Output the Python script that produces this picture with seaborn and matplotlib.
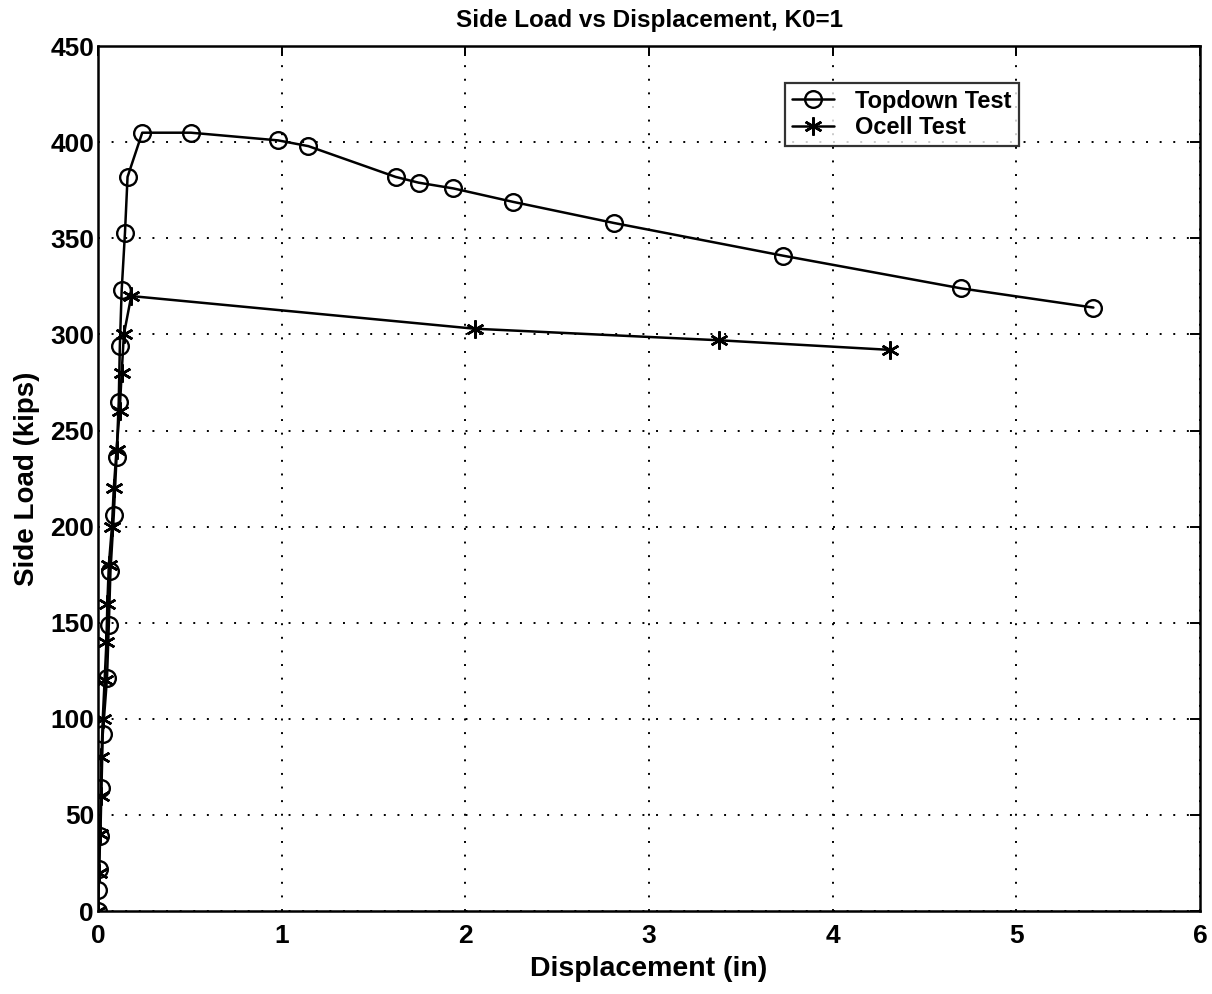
import matplotlib
matplotlib.use("Agg")
import matplotlib.pyplot as plt
import seaborn as sns
import pandas as pd

# Topdown load test: displacement (in) and side load (kips)
topdown_disp = [0.0, 0.0, 0.004, 0.012, 0.018, 0.025, 0.048, 0.058, 0.067, 0.085,
                0.100, 0.112, 0.118, 0.128, 0.146, 0.160, 0.240, 0.505, 0.98, 1.145,
                1.62, 1.745, 1.935, 2.26, 2.81, 3.73, 4.70, 5.42]
topdown_load = [0, 11, 22, 39, 64, 92, 121, 149, 177, 206,
                236, 265, 294, 323, 353, 382, 405, 405, 401, 398,
                382, 379, 376, 369, 358, 341, 324, 314]

# Osterberg cell test
ocell_disp = [0.0, 0.005, 0.010, 0.015, 0.018, 0.025, 0.035, 0.045, 0.050, 0.058,
              0.075, 0.085, 0.100, 0.117, 0.128, 0.140, 0.180, 2.05, 3.38, 4.31]
ocell_load = [0, 20, 40, 60, 80, 100, 120, 140, 160, 180,
              200, 220, 240, 260, 280, 300, 320, 303, 297, 292]

x_ticks = [0, 1, 2, 3, 4, 5, 6]
y_ticks = [0, 50, 100, 150, 200, 250, 300, 350, 400, 450]

sns.set_theme(style="white")
plt.rcParams["font.family"] = ["Liberation Sans", "DejaVu Sans"]
plt.rcParams["font.weight"] = "bold"
plt.rcParams["text.color"] = "black"
plt.rcParams["axes.labelcolor"] = "black"
plt.rcParams["xtick.color"] = "black"
plt.rcParams["ytick.color"] = "black"

fig = plt.figure(figsize=(12.12, 9.94), dpi=100)
ax = fig.add_axes([0.081, 0.0835, 0.909, 0.870])

topdown = pd.DataFrame({"disp": topdown_disp, "load": topdown_load})
ocell = pd.DataFrame({"disp": ocell_disp, "load": ocell_load})

sns.lineplot(data=topdown, x="disp", y="load", ax=ax, sort=False, estimator=None,
             color="black", linewidth=1.8, marker="o", markersize=12,
             markerfacecolor="none", markeredgecolor="black", markeredgewidth=1.7,
             label="Topdown Test")
sns.lineplot(data=ocell, x="disp", y="load", ax=ax, sort=False, estimator=None,
             color="black", linewidth=1.8, marker=(6, 2, 0), markersize=13,
             markeredgecolor="black", markeredgewidth=1.8,
             label="Ocell Test")

ax.set_xlim(0, 6)
ax.set_ylim(0, 450)
ax.set_xticks(x_ticks)
ax.set_yticks(y_ticks)
ax.set_xticklabels([str(v) for v in x_ticks])
ax.set_yticklabels([str(v) for v in y_ticks])

ax.grid(True, color="black", linestyle=(0, (1, 6)), linewidth=1.4)
ax.tick_params(direction="in", length=7, width=1.4, top=True, right=True,
               labelsize=19, colors="black")
ax.tick_params(axis="x", pad=9)
ax.tick_params(axis="y", pad=3)
for lbl in ax.get_xticklabels() + ax.get_yticklabels():
    lbl.set_fontweight("bold")
for sp in ax.spines.values():
    sp.set_color("black")
    sp.set_linewidth(1.8)

ax.set_xlabel("Displacement (in)", fontsize=20.5, fontweight="bold", labelpad=6)
ax.set_ylabel("Side Load (kips)", fontsize=20, fontweight="bold", labelpad=7)
ax.set_title("Side Load vs Displacement, K0=1", fontsize=17.5, fontweight="bold", pad=14)

leg = ax.legend(loc="upper left", bbox_to_anchor=(0.623, 0.958), frameon=True,
                fancybox=False, edgecolor="black", fontsize=17, handlelength=1.8,
                borderpad=0.3, labelspacing=0.15, handletextpad=0.9,
                borderaxespad=0.0)
leg.get_frame().set_linewidth(1.6)
for t in leg.get_texts():
    t.set_fontweight("bold")

fig.savefig("out.png", dpi=100, facecolor="white")
